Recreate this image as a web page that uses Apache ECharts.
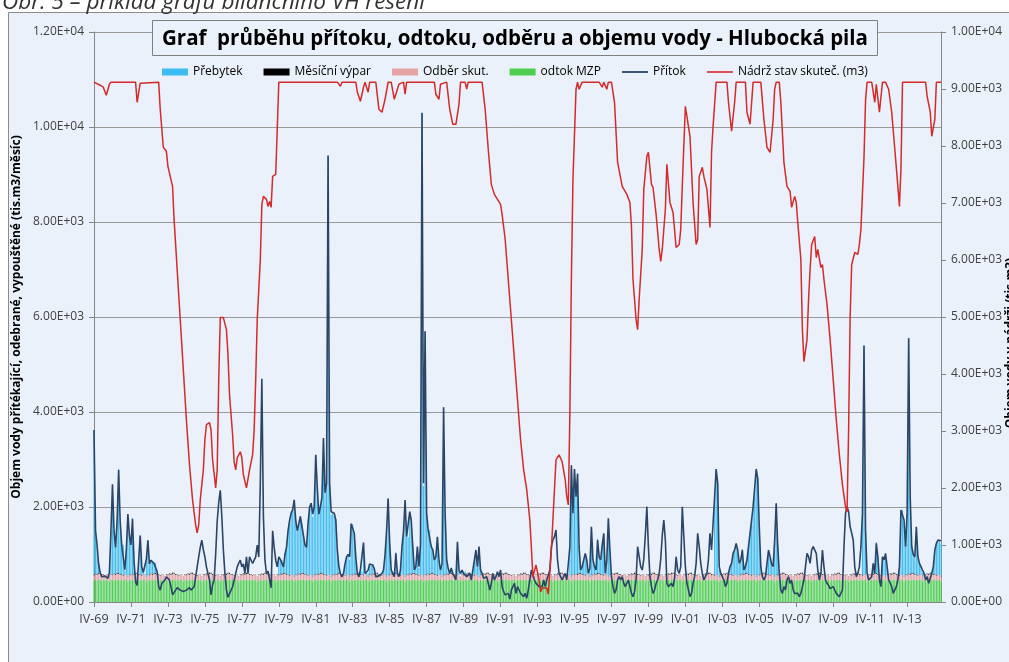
<!DOCTYPE html>
<html>
<head>
<meta charset="utf-8">
<title>Hlubocká pila</title>
<script src="https://cdn.jsdelivr.net/npm/echarts@6.0.0/dist/echarts.min.js"></script>
<style>
  html, body { margin: 0; padding: 0; background: #fff; }
  #chart { width: 1009px; height: 662px; }
</style>
</head>
<body>
<div id="chart"></div>
<script>
// months from IV-1969, monthly steps
const startYear = 1969
const startMonth = 4
const monthCount = 551
const romanMonths = ['I', 'II', 'III', 'IV', 'V', 'VI', 'VII', 'VIII', 'IX', 'X', 'XI', 'XII']

// odtok MZP, odběr, výpar - typical value by calendar month (I..XII), tis.m3
const odtokMZPMesic = [470, 425, 470, 455, 470, 455, 470, 470, 455, 470, 455, 470]
const odberMesic = [105, 100, 105, 110, 115, 120, 125, 125, 115, 110, 105, 105]
const vyparMesic = [5, 5, 8, 12, 16, 20, 22, 20, 14, 9, 6, 5]

// Přítok, tis.m3/měsíc, one value per month
const pritok = [
  3620, 1500, 1200, 800, 620, 530, 540, 545, 520, 500, 620, 1500,
  2480, 1500, 1150, 1700, 2780, 1700, 1200, 1230, 680, 1100, 1850, 1400,
  1200, 1750, 850, 420, 350, 330, 1400, 750, 620, 600, 900, 1300,
  800, 880, 850, 810, 800, 640, 330, 250, 390, 420, 460, 530,
  500, 460, 320, 150, 110, 250, 300, 320, 250, 290, 220, 180,
  250, 220, 300, 250, 250, 320, 530, 740, 950, 1150, 1300, 1100,
  950, 740, 700, 460, 150, 360, 460, 1000, 1700, 2100, 2350, 1800,
  1100, 600, 250, 100, 120, 250, 320, 460, 600, 740, 820, 880,
  740, 800, 600, 950, 600, 950, 920, 810, 880, 950, 1200, 950,
  2500, 4700, 1800, 880, 600, 650, 670, 300, 1500, 1150, 880, 740,
  950, 900, 880, 740, 1000, 1150, 1500, 1720, 1870, 1940, 2150, 1720,
  1500, 1650, 1800, 1600, 1400, 1200, 1150, 1650, 2000, 2080, 1850, 2000,
  3100, 2400, 1850, 2000, 2200, 3450, 2300, 2500, 9400, 2500, 1900, 1870,
  1870, 1730, 1100, 750, 600, 530, 600, 800, 950, 1000, 950, 1650,
  1650, 1450, 950, 600, 530, 680, 650, 1250, 600, 620, 670, 800,
  780, 780, 700, 530, 530, 550, 533, 600, 673, 1000, 1515, 2180,
  1235, 673, 603, 533, 1024, 603, 533, 673, 1165, 1500, 2147, 1375,
  1375, 1900, 1726, 1165, 673, 744, 1165, 744, 1200, 10300, 2500, 5700,
  1866, 1515, 1515, 1165, 1095, 884, 954, 1375, 884, 673, 800, 4100,
  1866, 884, 709, 603, 709, 603, 533, 463, 1270, 673, 603, 673,
  603, 638, 533, 560, 603, 463, 673, 884, 1095, 744, 1165, 673,
  603, 500, 463, 533, 393, 252, 393, 603, 463, 533, 638, 533,
  673, 323, 217, 150, 112, 182, 60, 252, 323, 393, 182, 323,
  252, 182, 140, 112, 182, 77, 252, 463, 673, 568, 463, 393,
  358, 323, 287, 323, 463, 323, 463, 500, 673, 1165, 1305, 1375,
  1515, 884, 603, 533, 463, 533, 603, 463, 800, 1165, 2880, 1866,
  2800, 2217, 2700, 1165, 673, 744, 884, 1024, 884, 603, 700, 1585,
  884, 744, 673, 1305, 954, 884, 1200, 1445, 603, 884, 1760, 1095,
  533, 323, 182, 252, 463, 533, 463, 533, 393, 323, 400, 463,
  323, 182, 112, 217, 463, 1165, 1200, 744, 673, 900, 1400, 2007,
  1165, 533, 323, 182, 252, 393, 463, 600, 900, 1400, 1726, 1305,
  393, 323, 287, 393, 323, 500, 954, 673, 603, 744, 2007, 1375,
  744, 400, 252, 112, 182, 393, 533, 814, 1445, 1165, 814, 603,
  463, 533, 603, 900, 1445, 1095, 1095, 2217, 2800, 2498, 744, 603,
  533, 463, 323, 393, 603, 744, 814, 1024, 1100, 1235, 1095, 814,
  884, 1095, 673, 744, 884, 1165, 1445, 1726, 2007, 2400, 2800, 2600,
  1585, 744, 533, 463, 533, 814, 1095, 954, 800, 744, 1305, 2077,
  1165, 603, 252, 182, 323, 252, 463, 533, 393, 463, 252, 182,
  182, 182, 112, 182, 323, 463, 744, 1024, 954, 814, 1095, 1165,
  1165, 1024, 673, 463, 603, 1095, 744, 463, 393, 350, 280, 300,
  323, 252, 182, 147, 112, 77, 252, 1165, 1866, 2007, 1900, 1585,
  1450, 1305, 744, 533, 603, 744, 1165, 1866, 5400, 1515, 603, 463,
  500, 533, 814, 603, 1235, 954, 463, 323, 954, 884, 1024, 744,
  463, 400, 323, 182, 147, 323, 463, 744, 1937, 1937, 1726, 1165,
  1866, 5550, 2217, 1165, 1000, 954, 1585, 954, 814, 744, 673, 603,
  463, 533, 393, 430, 600, 744, 1095, 1235, 1305, 1305, 1290
]

// Přebytek (spill), [month index, tis.m3] - months where it shows
const prebytek = [
  [0, 3030], [1, 910], [2, 610], [3, 210], [4, 30], [10, 30], [11, 910], [12, 1890], [13, 910], [14, 560],
  [15, 1110], [16, 2190], [17, 1110], [18, 610], [19, 640], [20, 90], [21, 510], [22, 1260], [23, 810],
  [24, 610], [25, 1160], [26, 260], [30, 810], [31, 160], [32, 30], [33, 10], [34, 310], [35, 710],
  [36, 210], [37, 290], [38, 260], [39, 220], [40, 210], [41, 50],
  [120, 360], [121, 310], [122, 290], [123, 150], [124, 410], [125, 560], [126, 910], [127, 1130],
  [128, 1280], [129, 1350], [130, 1560], [131, 1130], [132, 910], [133, 1060], [134, 1210], [135, 1010],
  [136, 810], [137, 610], [138, 560], [139, 1060], [140, 1410], [141, 1490], [142, 1260], [143, 1410],
  [144, 2510], [145, 1810], [146, 1260], [147, 1410], [148, 1610], [149, 2860], [150, 1710], [151, 1910],
  [152, 8810], [153, 1910], [154, 1310], [155, 1280], [156, 1280], [157, 1140], [158, 510], [159, 160],
  [163, 210], [164, 360], [165, 410], [166, 360], [167, 1060], [168, 1060], [169, 860], [170, 360],
  [173, 90], [174, 60], [175, 660], [177, 30], [178, 80], [179, 210], [180, 190], [181, 190], [182, 110],
  [188, 80], [189, 410], [190, 920], [191, 1590],
  [192, 645], [193, 83], [196, 434], [199, 83], [200, 575], [201, 910], [202, 1557], [203, 785],
  [204, 785], [205, 1310], [206, 1136], [207, 575], [208, 83], [209, 154], [210, 575], [211, 154],
  [212, 610], [213, 9710], [214, 1910], [215, 5110], [216, 1276], [217, 925], [218, 925], [219, 575],
  [220, 505], [221, 294], [222, 364], [223, 785], [224, 294], [225, 83], [226, 210], [227, 3510],
  [228, 1276], [229, 294], [230, 119], [232, 119], [236, 680], [237, 83], [239, 83], [241, 48],
  [246, 83], [247, 294], [248, 505], [249, 154], [250, 575], [251, 83],
  [309, 575], [310, 2290], [311, 1276], [312, 2210], [313, 1627], [314, 2110], [315, 575], [316, 83],
  [317, 154], [318, 294], [319, 434], [320, 294], [322, 110], [323, 995], [324, 294], [325, 154],
  [326, 83], [327, 715], [328, 364], [329, 294], [330, 610], [331, 855], [333, 294], [334, 1170], [335, 505],
  [403, 1627], [404, 2210], [405, 1908], [406, 154], [413, 154], [414, 224], [415, 434], [416, 510],
  [417, 645], [418, 505], [419, 224], [420, 294], [421, 505], [422, 83], [423, 154], [424, 294],
  [425, 575], [426, 855], [427, 1136], [428, 1417], [429, 1810], [430, 2210], [431, 2010], [432, 995],
  [433, 154], [437, 224], [438, 505], [439, 364], [440, 210], [441, 154], [442, 715], [443, 1487], [444, 575],
  [499, 1276], [500, 4810], [501, 925], [506, 224], [508, 645], [509, 364], [512, 364], [513, 294],
  [514, 434], [515, 154], [523, 154], [524, 1347], [525, 1347], [526, 1136], [527, 575], [528, 1276],
  [529, 4960], [530, 1627], [531, 575], [532, 410], [533, 364], [534, 995], [535, 364], [536, 224],
  [537, 154], [538, 83], [545, 154], [546, 505], [547, 645], [548, 715], [549, 715], [550, 700]
]

// Nádrž stav skuteč., [month index, tis.m3] - breakpoints of the red line
const nadrz = [
  [0, 9120], [4, 9066], [6, 9031], [8, 8891], [10, 9084], [11, 9120], [27, 9120], [28, 8767], [30, 9101],
  [42, 9120], [43, 8644], [45, 7977], [47, 7907], [48, 7643], [51, 7292], [52, 6712], [54, 5833],
  [56, 4955], [58, 4076], [60, 3198], [62, 2407], [64, 1792], [66, 1353], [67, 1212], [68, 1353],
  [69, 1792], [71, 2319], [72, 2846], [73, 3110], [75, 3145], [76, 3022], [77, 2495], [79, 2003],
  [80, 2319], [81, 3901], [82, 4990], [84, 4990], [86, 4779], [87, 4340], [88, 3637], [90, 2934],
  [91, 2460], [92, 2319], [93, 2530], [95, 2636], [96, 2530], [97, 2231], [99, 2003], [100, 1968],
  [101, 2319], [103, 2583], [104, 3022], [105, 3901], [106, 4955], [108, 6009], [109, 6975], [110, 7116],
  [112, 7063], [113, 6940], [114, 7028], [115, 6923], [116, 7467], [118, 7502], [119, 8300], [120, 9120],
  [158, 9120], [160, 9049], [161, 9120], [170, 9120], [171, 8943], [173, 8785], [175, 9031], [176, 9120],
  [178, 8943], [179, 9120], [183, 9120], [185, 8644], [187, 8592], [189, 8820], [191, 9120],
  [193, 9120], [195, 8820], [196, 8790], [198, 9084], [201, 9120], [202, 8908], [203, 9120],
  [221, 9120], [222, 8908], [224, 8820], [225, 9084], [229, 9120], [231, 8644], [233, 8381], [235, 8381],
  [237, 8732], [238, 9120], [241, 9120], [242, 9000], [243, 9120], [252, 9120], [254, 8644], [256, 7942],
  [258, 7327], [260, 7151], [262, 7063], [264, 6975], [265, 6800], [267, 6360], [269, 5658], [271, 4955],
  [273, 4252], [275, 3549], [277, 2846], [279, 2319], [281, 1968], [283, 1441], [284, 966], [285, 439],
  [287, 650], [289, 387], [290, 176], [291, 246], [294, 246], [295, 141], [297, 914], [299, 1968],
  [300, 2495], [302, 2583], [304, 2460], [306, 2144], [307, 1845], [308, 1704], [309, 3300], [310, 5700],
  [311, 7400], [313, 8996], [314, 9120], [315, 8996], [317, 9120], [328, 9120], [330, 9031], [331, 9120],
  [333, 8996], [334, 9120], [336, 9120], [338, 8767], [340, 7713], [343, 7292], [344, 7292], [346, 7151],
  [348, 7010], [349, 6589], [350, 5658], [352, 4955], [353, 4779], [354, 5306], [356, 6185], [357, 7239],
  [359, 7819], [360, 7889], [362, 7327], [363, 7274], [365, 6800], [367, 6185], [368, 5974], [369, 6185],
  [371, 6887], [372, 7678], [374, 7010], [376, 6835], [378, 6220], [380, 6272], [381, 6536], [382, 7292],
  [384, 8697], [385, 8680], [387, 8170], [389, 7010], [391, 6272], [392, 6360], [393, 7467], [395, 7626],
  [396, 7467], [398, 7239], [400, 6571], [401, 7889], [402, 8346], [404, 9120], [411, 9120], [412, 8767],
  [414, 8258], [415, 8240], [416, 8767], [417, 9120], [423, 9120], [424, 8592], [426, 8381], [428, 9120],
  [433, 9120], [435, 8469], [437, 7977], [439, 7889], [440, 7854], [441, 8469], [442, 9000], [443, 9120],
  [445, 9120], [446, 8767], [448, 7713], [450, 7292], [452, 7204], [453, 6923], [455, 7116], [456, 7010],
  [457, 6659], [459, 6009], [460, 4779], [461, 4217], [463, 4603], [464, 5306], [465, 5833], [466, 6272],
  [468, 6413], [469, 6044], [470, 6185], [472, 5868], [473, 5921], [474, 5658], [476, 5218], [478, 4603],
  [480, 3901], [482, 3198], [484, 2583], [486, 2056], [488, 1669], [489, 1581], [490, 3000], [491, 5000],
  [492, 5921], [494, 6132], [496, 6097], [497, 6272], [498, 6536], [500, 7800], [501, 8800], [502, 9120],
  [505, 9120], [507, 8767], [508, 9084], [510, 8592], [512, 9120], [514, 9120], [516, 8996], [518, 8592],
  [520, 7942], [522, 7292], [523, 6940], [524, 7590], [525, 9120], [540, 9120], [541, 8873], [543, 8600],
  [544, 8170], [546, 8469], [547, 9120], [550, 9120]
]

const leftTicks = { min: 0, max: 12000, interval: 2000 }
const rightTicks = { min: 0, max: 10000, interval: 1000 }

// category labels like IV-69
const categories = []
const calMonth = []
for (let i = 0; i < monthCount; i++) {
  const m = (startMonth - 1 + i) % 12
  const y = startYear + Math.floor((startMonth - 1 + i) / 12)
  calMonth.push(m)
  categories.push(romanMonths[m] + '-' + String(y % 100).padStart(2, '0'))
}

const mzpData = calMonth.map(m => odtokMZPMesic[m])
const odberData = calMonth.map(m => odberMesic[m])
const vyparData = calMonth.map(m => vyparMesic[m])
const prebytekData = categories.map(() => 0)
prebytek.forEach(p => { prebytekData[p[0]] = p[1] })

function sci (v) {
  // Excel style 1.20E+04
  const s = Number(v).toExponential(2).toUpperCase()
  const parts = s.split('E')
  const sign = parts[1][0]
  const exp = parts[1].slice(1).padStart(2, '0')
  return parts[0] + 'E' + sign + exp
}

const font = "'Open Sans', sans-serif"
const bg = '#ebf1fa'
const axisGray = '#868686'
const pritokColor = '#2b4567'
const nadrzColor = '#d42a2a'

const myChart = echarts.init(document.getElementById('chart'), null, { renderer: 'canvas' })

const option = {
  animation: false,
  backgroundColor: '#ffffff',
  textStyle: { fontFamily: font },
  grid: {
    left: 94,
    right: 68,
    top: 32,
    bottom: 60,
    containLabel: false
  },
  legend: {
    left: 157,
    top: 61,
    itemWidth: 26,
    itemHeight: 7,
    itemGap: 21,
    textStyle: { fontSize: 12, color: '#000', fontFamily: font },
    data: [
      { name: 'Přebytek', icon: 'rect' },
      { name: 'Měsíční výpar', icon: 'rect' },
      { name: 'Odběr skut.', icon: 'rect' },
      { name: 'odtok MZP', icon: 'rect' },
      // plain line swatches, no marker
      { name: 'Přítok', icon: 'path://M0,0 H26 V1.8 H0 Z', itemStyle: { color: pritokColor } },
      { name: 'Nádrž stav skuteč. (m3)', icon: 'path://M0,0 H26 V1.6 H0 Z', itemStyle: { color: nadrzColor } }
    ]
  },
  graphic: [
    {
      // outer chart frame
      type: 'rect',
      z: -100,
      shape: { x: 8.5, y: 12.5, width: 1030, height: 700 },
      style: { fill: bg, stroke: '#8c8c8c', lineWidth: 1 }
    },
    {
      type: 'text',
      z: 10,
      x: 2,
      y: 14,
      style: {
        text: 'Obr. 5 – příklad grafu bilančního VH řešení',
        font: "italic 22.5px 'Open Sans', sans-serif",
        fill: '#333',
        verticalAlign: 'bottom'
      }
    },
    {
      type: 'rect',
      z: 100,
      shape: { x: 152.5, y: 20.5, width: 725, height: 35 },
      style: { fill: bg, stroke: '#7f7f7f', lineWidth: 1 }
    },
    {
      type: 'text',
      z: 101,
      x: 515,
      y: 39,
      style: {
        text: 'Graf  průběhu přítoku, odtoku, odběru a objemu vody - Hlubocká pila',
        font: "bold 20.5px 'Open Sans', sans-serif",
        fill: '#000',
        align: 'center',
        verticalAlign: 'middle'
      }
    },
    {
      // right axis title, cut by the page edge as in the original
      type: 'text',
      z: 10,
      x: 1011,
      y: 343,
      rotation: Math.PI / 2,
      style: {
        text: 'Objem vody v nádrži (tis.m3)',
        font: "bold 12px 'Open Sans', sans-serif",
        fill: '#000',
        align: 'center',
        verticalAlign: 'middle'
      }
    }
  ],
  xAxis: {
    type: 'category',
    data: categories,
    boundaryGap: false,
    axisLine: { lineStyle: { color: axisGray } },
    axisTick: {
      length: 5,
      lineStyle: { color: axisGray },
      interval: (i) => i % 24 === 0
    },
    axisLabel: {
      interval: (i) => i % 24 === 0,
      color: '#404040',
      fontSize: 12.5,
      margin: 11,
      fontFamily: font
    },
    splitLine: { show: false }
  },
  yAxis: [
    {
      type: 'value',
      min: leftTicks.min,
      max: leftTicks.max,
      interval: leftTicks.interval,
      name: 'Objem vody přítékající, odebrané, vypouštěné (tis.m3/měsíc)',
      nameLocation: 'middle',
      nameRotate: 90,
      nameGap: 57,
      nameTextStyle: { fontWeight: 'bold', fontSize: 12, color: '#000', fontFamily: font },
      axisLine: { show: true, lineStyle: { color: axisGray } },
      axisTick: { show: true, length: 5, lineStyle: { color: axisGray } },
      axisLabel: { formatter: sci, color: '#404040', fontSize: 12, margin: 10, fontFamily: font },
      splitLine: { show: true, lineStyle: { color: '#9a9a9a', width: 1 } }
    },
    {
      type: 'value',
      position: 'right',
      min: rightTicks.min,
      max: rightTicks.max,
      interval: rightTicks.interval,
      axisLine: { show: true, lineStyle: { color: axisGray } },
      axisTick: { show: true, length: 5, lineStyle: { color: axisGray } },
      axisLabel: { formatter: sci, color: '#404040', fontSize: 12, margin: 10, fontFamily: font },
      splitLine: { show: false }
    }
  ],
  series: [
    {
      name: 'odtok MZP',
      type: 'bar',
      stack: 'bilance',
      barCategoryGap: '30%',
      itemStyle: { color: '#4fcf4f' },
      data: mzpData
    },
    {
      name: 'Odběr skut.',
      type: 'bar',
      stack: 'bilance',
      itemStyle: { color: '#e6a3a3' },
      data: odberData
    },
    {
      name: 'Měsíční výpar',
      type: 'bar',
      stack: 'bilance',
      itemStyle: { color: '#000000' },
      data: vyparData
    },
    {
      name: 'Přebytek',
      type: 'bar',
      stack: 'bilance',
      itemStyle: { color: '#3cbcf0' },
      data: prebytekData
    },
    {
      name: 'Přítok',
      type: 'line',
      symbol: 'none',
      z: 5,
      lineStyle: { color: pritokColor, width: 1.6 },
      itemStyle: { color: pritokColor },
      data: pritok
    },
    {
      name: 'Nádrž stav skuteč. (m3)',
      type: 'line',
      yAxisIndex: 1,
      symbol: 'none',
      z: 6,
      lineStyle: { color: nadrzColor, width: 1.5 },
      itemStyle: { color: nadrzColor },
      data: nadrz
    }
  ]
}

myChart.setOption(option)
</script>
</body>
</html>
